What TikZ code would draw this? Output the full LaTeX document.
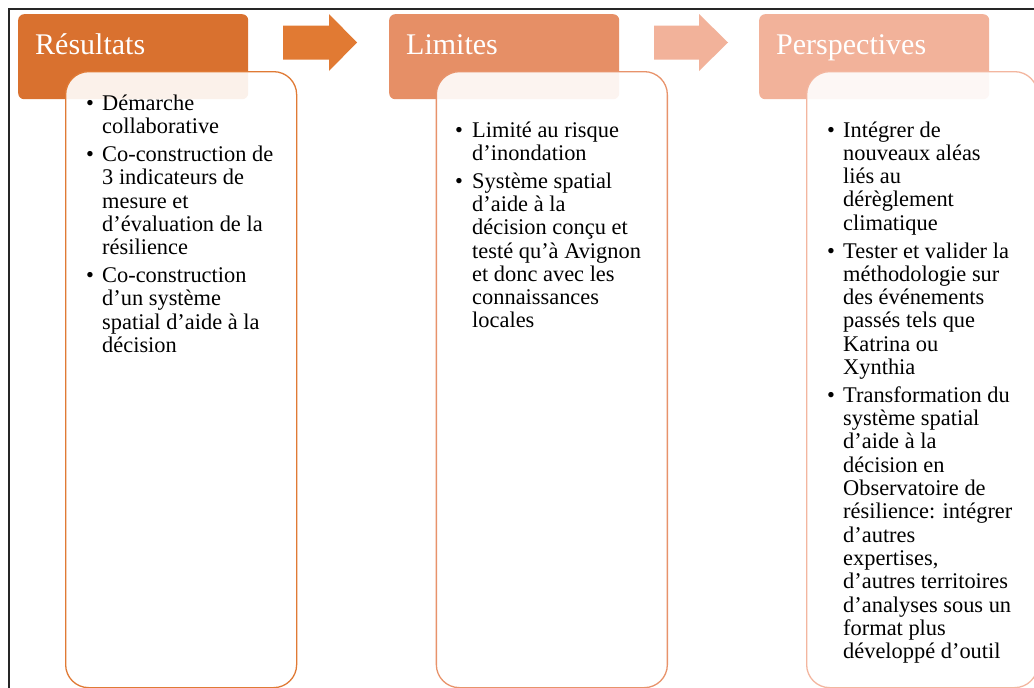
\documentclass[tikz,border=0pt]{standalone}
\usepackage{fontspec}
\setmainfont{Liberation Serif}
\definecolor{hA}{HTML}{D9712F}
\definecolor{arA}{HTML}{E17A33}
\definecolor{bdA}{HTML}{E07A35}
\definecolor{hB}{HTML}{E68F66}
\definecolor{bdB}{HTML}{E8936B}
\definecolor{hC}{HTML}{F2B29A}
\definecolor{bdC}{HTML}{F3B69F}
\newcommand\mypara[5]{%
  \node[btxt] (#1b) at (#2,#4) {•};
  \foreach \t [count=\i from 0] in {#5} \node[btxt] (#1l\i) at (#3,{#4+23.3*\i}) {\t};
}
\begin{document}
\begin{tikzpicture}[x=1pt,y=-1pt,
  hdr/.style={draw=none, rounded corners=6pt, anchor=north west, minimum width=230pt, minimum height=85pt, inner sep=0pt},
  bodybox/.style={rounded corners=23pt, line width=1.3pt, fill=white, fill opacity=0.9, anchor=north west, minimum width=231pt, minimum height=616pt, inner sep=0pt},
  htxt/.style={anchor=base west, text=white, font=\fontsize{30}{32}\selectfont, inner sep=0pt},
  btxt/.style={anchor=base west, font=\fontsize{22.4}{24}\selectfont, inner sep=0pt}
]
\useasboundingbox (0,0) rectangle (1034,688);
\clip (0,0) rectangle (1034,688);
\fill[white] (0,0) rectangle (1034,688);
% frame
\draw[line width=1.8pt, black!85] (9.3,9.3) rectangle (1100,750);
% headers
\node[hdr, fill=hA] (h1) at (18,14) {};
\node[hdr, fill=hB] (h2) at (389,14) {};
\node[hdr, fill=hC] (h3) at (759,14) {};
\node[htxt] (t1) at (35,54) {Résultats};
\node[htxt] (t2) at (406,54) {Limites};
\node[htxt] (t3) at (776,54) {Perspectives};
% arrows
\fill[arA] (283,25.5) -- (329,25.5) -- (329,14) -- (357,42.5) -- (329,71) -- (329,59.5) -- (283,59.5) -- cycle;
\fill[hC] (654,25.5) -- (699,25.5) -- (699,14) -- (728,42.5) -- (699,71) -- (699,59.5) -- (654,59.5) -- cycle;
% bodies
\node[bodybox, draw=bdA] (b1) at (65,71) {};
\node[bodybox, draw=bdB] (b2) at (435.7,71) {};
\node[bodybox, draw=bdC] (b3) at (806,71) {};
% body 1
\mypara{ra}{86}{102}{110.5}{Démarche,collaborative}
\mypara{rb}{86}{102}{161.6}{Co-construction de,3 indicateurs de,mesure et,d’évaluation de la,résilience}
\mypara{rc}{86}{102}{282.6}{Co-construction,d’un système,spatial d’aide à la,décision}
% body 2
\mypara{la}{455}{472}{137}{Limité au risque,d’inondation}
\mypara{lb}{455}{472}{188.1}{Système spatial,d’aide à la,décision conçu et,testé qu’à Avignon,et donc avec les,connaissances,locales}
% body 3
\mypara{pa}{827}{843}{137}{Intégrer de,nouveaux aléas,liés au,dérèglement,climatique}
\mypara{pb}{827}{843}{258}{Tester et valider la,méthodologie sur,des événements,passés tels que,Katrina ou,Xynthia}
\mypara{pc}{827}{843}{402.3}{Transformation du,système spatial,d’aide à la,décision en,Observatoire de,résilience: intégrer,d’autres,{expertises,},d’autres territoires,d’analyses sous un,format plus,développé d’outil}
\end{tikzpicture}
\end{document}
